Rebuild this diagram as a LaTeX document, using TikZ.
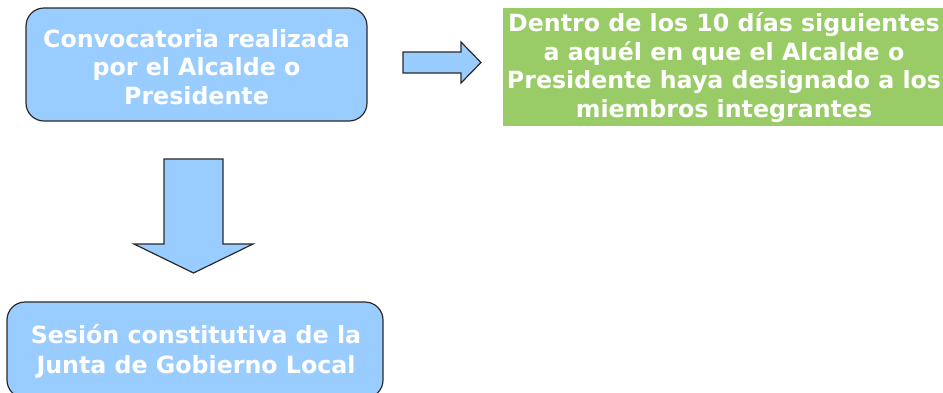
\documentclass[tikz,border=0pt]{standalone}
\usepackage{fontspec}
\setmainfont{DejaVu Sans}
\definecolor{boxblue}{HTML}{99CCFF}
\definecolor{boxgreen}{HTML}{99CC66}
\definecolor{edge}{HTML}{2A2A2A}
\begin{document}
\begin{tikzpicture}[x=1pt,y=-1pt,
  txt/.style={text=white,font=\fontsize{23.7}{28.5}\selectfont\bfseries,align=center,inner sep=0pt},
  bluebox/.style={fill=boxblue,draw=edge,line width=1.2pt,rounded corners=18pt},
  blockarrow/.style={fill=boxblue,draw=edge,line width=1.2pt,line join=miter}]
\useasboundingbox (0,0) rectangle (943,392);
\begin{scope}
\clip (0,0) rectangle (943,392);
% top-left box
\draw[bluebox] (26,8) rectangle (367,121);
\node[txt] (conv) at (196.5,67) {Convocatoria realizada\\por el Alcalde o\\Presidente};
% green box
\fill[boxgreen] (503,8) rectangle (950,126);
\node[txt] (plazo) at (724,67.5) {Dentro de los 10 días siguientes\\a aquél en que el Alcalde o\\Presidente haya designado a los\\miembros integrantes};
% bottom box
\draw[bluebox] (7,302) rectangle (383,398);
\node[txt,font=\fontsize{23.7}{30}\selectfont\bfseries] (sesion) at (196,351) {Sesión constitutiva de la\\Junta de Gobierno Local};
% right block arrow
\draw[blockarrow] (403,52) -- (461,52) -- (461,42) -- (481,62.5) -- (461,83) -- (461,73) -- (403,73) -- cycle;
% down block arrow
\draw[blockarrow] (164,159) -- (223,159) -- (223,244) -- (253,244) -- (193.5,273) -- (134,244) -- (164,244) -- cycle;
\end{scope}
\end{tikzpicture}
\end{document}
